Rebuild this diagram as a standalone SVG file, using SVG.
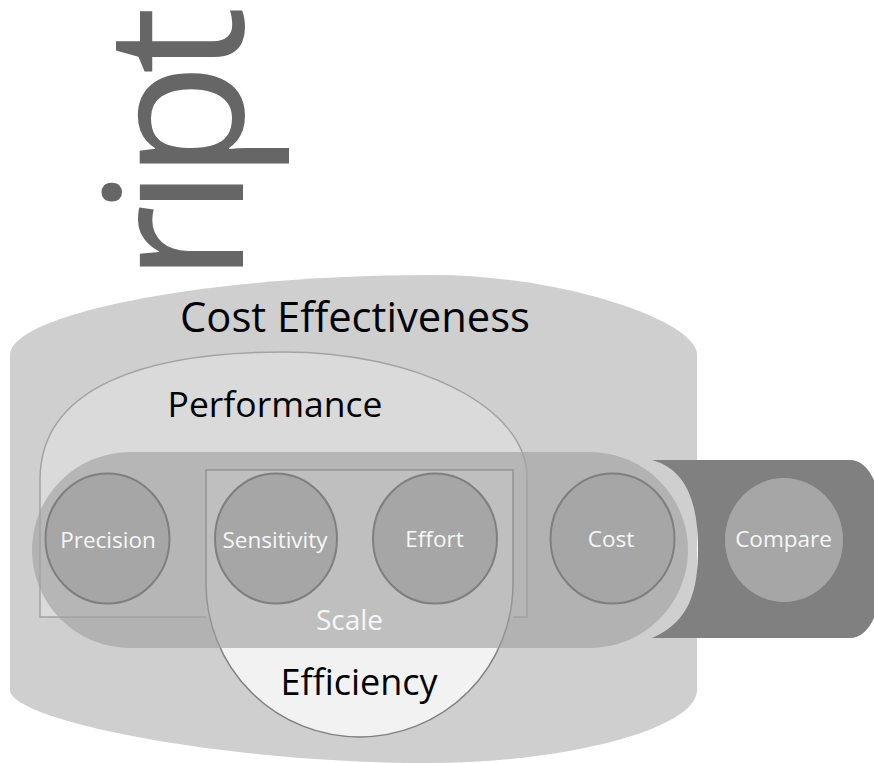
<svg xmlns="http://www.w3.org/2000/svg" width="874" height="763" viewBox="0 0 874 763">
  <style>
    .lbl { font-family: "Open Sans", "Noto Sans", sans-serif; text-anchor: middle; }
    .dark { fill: #000000; }
    .light { fill: #f7f7f7; font-size: 22.5px; }
    .node { fill: #a6a6a6; stroke: #7f7f7f; stroke-width: 2; }
  </style>
  <rect width="874" height="763" fill="#ffffff"/>

  <!-- rotated fragment of a word, top left -->
  <text transform="translate(243,283) rotate(-90)" font-family="'Open Sans', 'Noto Sans', sans-serif" font-size="192" letter-spacing="-12" fill="#666666">ript</text>

  <!-- outer can shape -->
  <g id="cost-effectiveness">
    <path d="M10,355 C10,315 200,275 433,275 C560,275 697,320 697,355 L697,690 C697,730 560,763 430,763 C220,763 10,720 10,690 Z" fill="#d0cfd0"/>
    <text class="lbl dark" x="355" y="332" font-size="41.7">Cost Effectiveness</text>
  </g>

  <!-- performance dome -->
  <g id="performance">
    <path id="perf-shape" d="M40,617 L40,480 C40,385 150,352 283,352 C418,352 527,408 527,477 L527,617 Z" fill="#dadada"/>
    <text class="lbl dark" x="275" y="417" font-size="35.5">Performance</text>
  </g>

  <!-- efficiency cup -->
  <g id="efficiency">
    <path d="M206,470 L513,470 L513,583.5 A153.5,153.5 0 0 1 206,583.5 Z" fill="#f2f2f2" stroke="#808080" stroke-width="1.5"/>
    <text class="lbl dark" x="359" y="695" font-size="36">Efficiency</text>
  </g>

  <!-- translucent band holding the measures -->
  <g id="band">
    <rect x="32" y="452" width="656" height="196" rx="98" ry="98" fill="#a0a0a0" fill-opacity="0.62"/>
    <!-- performance outline shows through the band -->
    <path d="M206,617 L40,617 L40,480 C40,385 150,352 283,352 C418,352 527,408 527,477 L527,617 L513,617" fill="none" stroke="#a3a3a3" stroke-width="1.5"/>
    <text class="lbl" x="349.5" y="630" font-size="28" fill="#f7f7f7">Scale</text>
  </g>

  <g id="precision">
    <ellipse class="node" cx="107.5" cy="538.5" rx="62" ry="65"/>
    <text class="lbl light" x="108" y="548">Precision</text>
  </g>
  <g id="sensitivity">
    <ellipse class="node" cx="276" cy="538.5" rx="61" ry="65"/>
    <text class="lbl light" x="275" y="548">Sensitivity</text>
  </g>
  <g id="effort">
    <ellipse class="node" cx="435" cy="538.5" rx="62" ry="65"/>
    <text class="lbl light" x="434.5" y="547">Effort</text>
  </g>
  <g id="cost">
    <ellipse class="node" cx="612.5" cy="538.5" rx="62" ry="65"/>
    <text class="lbl light" x="611" y="547">Cost</text>
  </g>

  <!-- comparison tab on the right -->
  <g id="compare">
    <path d="M652,460 L850,460 C870,460 885,490 885,549 C885,608 870,638 850,638 L652,638 C690,622 698,590 698,549 C698,505 688,470 652,460 Z" fill="#808080"/>
    <ellipse cx="784" cy="540" rx="59" ry="62" fill="#a6a6a6"/>
    <text class="lbl light" x="783.5" y="547">Compare</text>
  </g>
</svg>
